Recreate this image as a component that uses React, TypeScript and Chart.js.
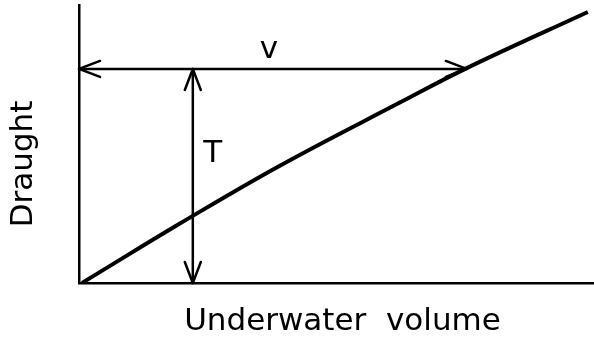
import React, { useEffect, useRef } from "react";
import { Chart, registerables } from "chart.js";

Chart.register(...registerables);

// Curve: underwater volume (x) vs draught (y), in relative units 0..100
const volumeValues = [0.6, 4.1, 19.6, 39.0, 62.3, 75.3, 98.8];
const draughtValues = [0, 4.0, 21.4, 42.2, 64.9, 77.3, 97.5];

// Annotation values
const refDraught = 77.0; // level of the horizontal arrow (T)
const refVolume = 75.3; // volume at that draught (V)
const arrowX = 22.1; // x position of the vertical T arrow

const xTitle = "Underwater  volume";
const yTitle = "Draught";
const vLabel = "v";
const tLabel = "T";

const INK = "#000";
const FONT = "31px 'DejaVu Sans'";

function arrowHead(ctx: CanvasRenderingContext2D, x: number, y: number, dx: number, dy: number) {
  const len = 21;
  const half = 8;
  const bx = x - dx * len;
  const by = y - dy * len;
  const px = -dy;
  const py = dx;
  ctx.beginPath();
  ctx.moveTo(bx + px * half, by + py * half);
  ctx.lineTo(x, y);
  ctx.lineTo(bx - px * half, by - py * half);
  ctx.stroke();
}

const annotPlugin = {
  id: "annot",
  afterDraw(chart: any) {
    const ctx: CanvasRenderingContext2D = chart.ctx;
    const xs = chart.scales.x;
    const ys = chart.scales.y;
    const area = chart.chartArea;
    ctx.save();
    ctx.strokeStyle = INK;
    ctx.fillStyle = INK;
    ctx.lineWidth = 2.5;
    ctx.lineCap = "round";
    ctx.lineJoin = "round";

    // Horizontal arrow (V)
    const hy = ys.getPixelForValue(refDraught);
    const hx0 = xs.getPixelForValue(0);
    const hx1 = xs.getPixelForValue(refVolume);
    ctx.beginPath();
    ctx.moveTo(hx0, hy);
    ctx.lineTo(hx1, hy);
    ctx.stroke();
    arrowHead(ctx, hx0, hy, -1, 0);
    arrowHead(ctx, hx1, hy, 1, 0);

    // Vertical arrow (T)
    const vx = xs.getPixelForValue(arrowX);
    const vy0 = ys.getPixelForValue(0);
    ctx.beginPath();
    ctx.moveTo(vx, hy);
    ctx.lineTo(vx, vy0);
    ctx.stroke();
    arrowHead(ctx, vx, hy, 0, -1);
    arrowHead(ctx, vx, vy0, 0, 1);

    // Labels
    ctx.font = FONT;
    ctx.textAlign = "center";
    ctx.textBaseline = "alphabetic";
    ctx.fillText(vLabel, xs.getPixelForValue((0 + refVolume) / 2) - 4, hy - 11);
    ctx.fillText(tLabel, vx + 20, ys.getPixelForValue(43.5));

    // Axis titles
    ctx.fillText(xTitle, (area.left + area.right) / 2 + 6, area.bottom + 47);
    ctx.save();
    ctx.translate(area.left - 47, area.bottom - 119);
    ctx.rotate(-Math.PI / 2);
    ctx.fillText(yTitle, 0, 0);
    ctx.restore();

    ctx.restore();
  },
};

export default function App() {
  const canvasRef = useRef<HTMLCanvasElement | null>(null);

  useEffect(() => {
    document.body.style.margin = "0";
    document.body.style.background = "#fff";
    const canvas = canvasRef.current;
    if (!canvas) return;
    const points = volumeValues.map((v, i) => ({ x: v, y: draughtValues[i] }));
    const chart = new Chart(canvas, {
      type: "scatter",
      data: {
        datasets: [
          {
            data: points,
            showLine: true,
            borderColor: INK,
            borderWidth: 4,
            pointRadius: 0,
            tension: 0.4,
          },
        ],
      },
      options: {
        animation: false,
        responsive: false,
        maintainAspectRatio: false,
        layout: { padding: { left: 71, top: 5, right: 0, bottom: 46 } },
        plugins: { legend: { display: false }, tooltip: { enabled: false } },
        scales: {
          x: {
            type: "linear",
            min: 0,
            max: 100,
            grid: { display: false },
            ticks: { display: false },
            border: { display: true, color: INK, width: 2.5 },
          },
          y: {
            type: "linear",
            min: 0,
            max: 100,
            grid: { display: false },
            ticks: { display: false },
            border: { display: true, color: INK, width: 2.5 },
          },
        },
      },
      plugins: [annotPlugin],
    });
    return () => chart.destroy();
  }, []);

  return (
    <div style={{ width: 594, height: 337, background: "#fff" }}>
      <canvas ref={canvasRef} width={594} height={337} style={{ display: "block" }} />
    </div>
  );
}
